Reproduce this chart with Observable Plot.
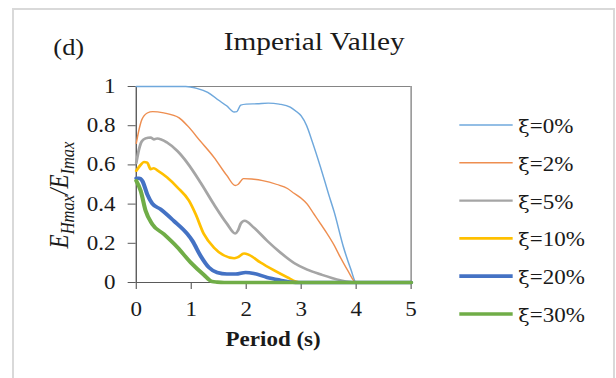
<!DOCTYPE html>
<html><head><meta charset="utf-8">
<script src="https://cdn.jsdelivr.net/npm/d3@7"></script>
<script src="https://cdn.jsdelivr.net/npm/@observablehq/plot@0.6"></script>
<style>
html,body{margin:0;padding:0;background:#fff;width:616px;height:378px;overflow:hidden;}
#frame{position:absolute;left:12px;top:8px;width:599px;height:400px;border:2px solid #d9d9d9;border-bottom:none;background:#fff;}
#stretch{position:absolute;left:0;top:0;width:536px;height:378px;transform:scaleX(1.15);transform-origin:0 0;}
</style></head><body>
<div id="frame"></div>
<div id="stretch"></div>
<script>
// ---- data ----
const seriesLabels = ["ξ=0%", "ξ=2%", "ξ=5%", "ξ=10%", "ξ=20%", "ξ=30%"];

const period0 = [0, 0.5, 0.9, 1.1, 1.3, 1.5, 1.65, 1.78, 1.83, 1.9, 2.0, 2.2, 2.4, 2.6, 2.8, 2.9, 3.0, 3.1, 3.2, 3.35, 3.5, 3.6, 3.77, 3.9, 4.0, 4.5, 5];
const ratio0  = [1, 1, 1, 0.99, 0.97, 0.93, 0.9, 0.87, 0.872, 0.905, 0.91, 0.912, 0.915, 0.91, 0.895, 0.875, 0.85, 0.8, 0.72, 0.59, 0.45, 0.36, 0.18, 0.07, 0, 0, 0];

const period2 = [0, 0.05, 0.1, 0.2, 0.3, 0.5, 0.78, 0.93, 1.17, 1.41, 1.65, 1.8, 1.85, 1.95, 2.1, 2.3, 2.56, 2.75, 2.87, 3.0, 3.11, 3.23, 3.35, 3.47, 3.6, 3.71, 3.85, 4.0, 5];
const ratio2  = [0.71, 0.78, 0.83, 0.865, 0.872, 0.865, 0.84, 0.8, 0.72, 0.64, 0.545, 0.495, 0.5, 0.53, 0.528, 0.52, 0.5, 0.48, 0.455, 0.43, 0.4, 0.35, 0.3, 0.25, 0.19, 0.13, 0.06, 0, 0];

const period5 = [0, 0.05, 0.1, 0.17, 0.26, 0.32, 0.38, 0.56, 0.75, 0.93, 1.17, 1.41, 1.65, 1.8, 1.85, 1.9, 1.97, 2.14, 2.38, 2.62, 2.87, 3.11, 3.35, 3.71, 4.0, 5];
const ratio5  = [0.61, 0.68, 0.72, 0.735, 0.74, 0.73, 0.735, 0.714, 0.67, 0.61, 0.51, 0.4, 0.3, 0.25, 0.265, 0.3, 0.315, 0.28, 0.213, 0.153, 0.1, 0.066, 0.042, 0.012, 0, 0];

const period10 = [0, 0.08, 0.14, 0.2, 0.26, 0.32, 0.38, 0.56, 0.75, 0.96, 1.08, 1.23, 1.41, 1.59, 1.78, 1.84, 1.96, 2.05, 2.26, 2.5, 2.75, 2.9, 3.0, 5];
const ratio10  = [0.57, 0.6, 0.615, 0.612, 0.578, 0.583, 0.573, 0.536, 0.485, 0.417, 0.349, 0.247, 0.179, 0.139, 0.124, 0.128, 0.148, 0.141, 0.102, 0.063, 0.026, 0.005, 0, 0];

const period20 = [0, 0.05, 0.11, 0.2, 0.29, 0.44, 0.68, 0.93, 1.02, 1.17, 1.32, 1.47, 1.65, 1.81, 1.99, 2.14, 2.38, 2.62, 2.8, 3.0, 5];
const ratio20  = [0.532, 0.532, 0.519, 0.45, 0.403, 0.374, 0.315, 0.247, 0.213, 0.136, 0.077, 0.051, 0.043, 0.043, 0.051, 0.046, 0.026, 0.012, 0.003, 0, 0];

const period30 = [0, 0.08, 0.17, 0.29, 0.5, 0.75, 0.99, 1.23, 1.38, 1.47, 1.6, 5];
const ratio30  = [0.519, 0.468, 0.366, 0.298, 0.247, 0.179, 0.102, 0.039, 0.005, 0.002, 0, 0];

const xTicks = [0, 1, 2, 3, 4, 5];
const yTicks = [0, 0.2, 0.4, 0.6, 0.8, 1];

// ---- styles ----
const seriesColors = ["#6FA8DC", "#EE8E50", "#A5A5A5", "#FFC000", "#4472C4", "#70AD47"];
const seriesWidths = [1.3, 1.3, 2.5, 2.5, 3.6, 3.6];
const legendWidths = [1.6, 1.6, 2.4, 2.6, 3.8, 3.6];

const periods = [period0, period2, period5, period10, period20, period30];
const ratios = [ratio0, ratio2, ratio5, ratio10, ratio20, ratio30];
const series = seriesLabels.map((label, i) =>
  periods[i].map((t, j) => ({label, period: t, ratio: ratios[i][j]})));

const FONT = "'Liberation Serif', 'Times New Roman', serif";
const W = 536, H = 378;

const chart = Plot.plot({
  width: W, height: H,
  marginLeft: 118, marginRight: 179, marginTop: 86, marginBottom: 96,
  x: {domain: [0, 5], axis: null, label: null},
  y: {domain: [0, 1], axis: null, label: null},
  style: {fontFamily: FONT, fontSize: "20px", color: "#1a1a1a", background: "transparent", overflow: "visible"},
  marks: [
    Plot.ruleY([1], {stroke: "#858585", strokeWidth: 1.2}),
    Plot.ruleX([5], {stroke: "#858585", strokeWidth: 1.2}),
    Plot.axisY({ticks: yTicks, tickFormat: d => String(d), label: null, tickSize: 7, tickPadding: 11, stroke: "#5a5a5a", fill: "#1a1a1a", fontSize: 20}),
    Plot.axisX({ticks: xTicks, tickFormat: d => String(d), label: null, tickSize: 7, tickPadding: 12, stroke: "#5a5a5a", fill: "#1a1a1a", fontSize: 20}),
    Plot.ruleX([0], {stroke: "#5a5a5a", strokeWidth: 1.2}),
    Plot.ruleY([0], {stroke: "#5a5a5a", strokeWidth: 1.2}),
    ...series.map((data, i) => Plot.line(data, {
      x: "period", y: "ratio", stroke: seriesColors[i], strokeWidth: seriesWidths[i],
      curve: "monotone-x", strokeLinejoin: "round", strokeLinecap: "round"
    }))
  ]
});

document.getElementById("stretch").appendChild(chart);
const svg = d3.select(chart);

// Title and panel tag
svg.append("text").attr("x", 273.2).attr("y", 50).attr("text-anchor", "middle")
  .attr("font-family", FONT).attr("font-size", 25.5).attr("fill", "#1a1a1a").text("Imperial Valley");
svg.append("text").attr("x", 46.4).attr("y", 55).attr("text-anchor", "start")
  .attr("font-family", FONT).attr("font-size", 23).attr("fill", "#1a1a1a").text("(d)");

// X axis title
svg.append("text").attr("x", 237.5).attr("y", 346.5).attr("text-anchor", "middle")
  .attr("font-family", FONT).attr("font-size", 20).attr("font-weight", "bold").attr("fill", "#1a1a1a").text("Period (s)");

// Y axis title
const yl = svg.append("text").attr("transform", "translate(59,195) rotate(-90)").attr("text-anchor", "middle")
  .attr("font-family", FONT).attr("font-style", "italic").attr("font-size", 23).attr("fill", "#1a1a1a");
yl.append("tspan").text("E");
yl.append("tspan").attr("font-size", 16.5).attr("dy", 5).text("Hmax");
yl.append("tspan").attr("dy", -5).text("/E");
yl.append("tspan").attr("font-size", 16.5).attr("dy", 5).text("Imax");

// Legend
const lg = svg.append("g");
seriesLabels.forEach((label, i) => {
  const y = 125 + 37.8 * i;
  lg.append("line").attr("x1", 399.4).attr("x2", 445.8).attr("y1", y).attr("y2", y)
    .attr("stroke", seriesColors[i]).attr("stroke-width", legendWidths[i]);
  const t = lg.append("text").attr("x", 450.7).attr("y", y + 8).attr("text-anchor", "start")
    .attr("font-family", FONT).attr("font-size", 20).attr("fill", "#1a1a1a");
  t.append("tspan").attr("font-family", "'DejaVu Serif', serif").attr("font-size", 18).text(label.slice(0, 1));
  t.append("tspan").text(label.slice(1));
});
</script>
</body></html>
